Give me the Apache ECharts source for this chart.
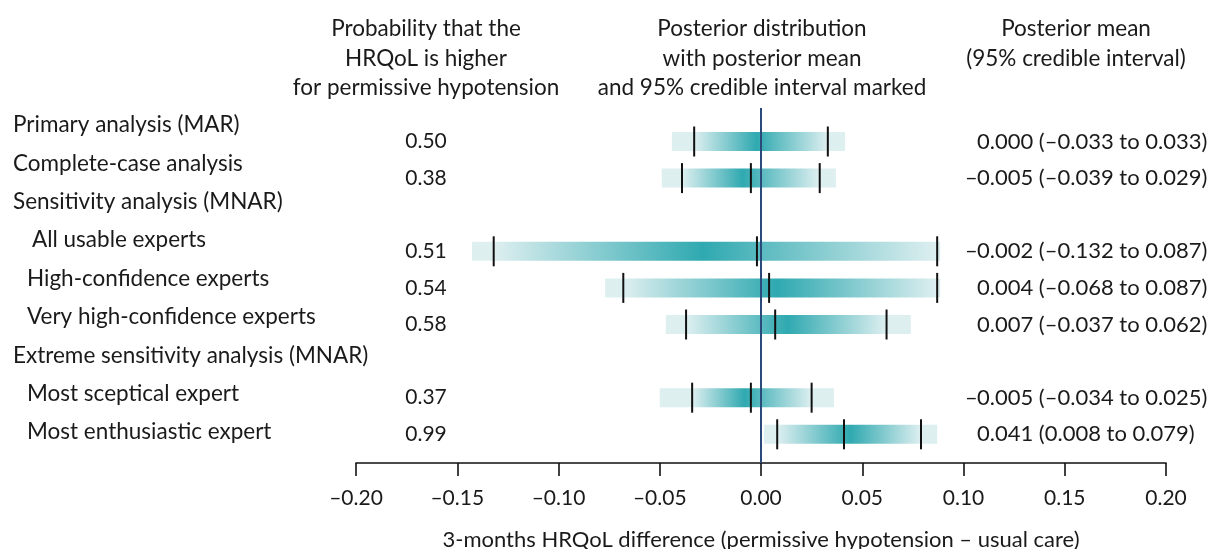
<!DOCTYPE html>
<html>
<head>
<meta charset="utf-8">
<script src="https://cdn.jsdelivr.net/npm/echarts@6/dist/echarts.min.js"></script>
<style>html,body{margin:0;padding:0;background:#fff}#c{width:1211px;height:549px}</style>
</head>
<body>
<div id="c"></div>
<script>
// ---- data ----
var rowLabels = ['Primary analysis (MAR)', 'Complete-case analysis', 'Sensitivity analysis (MNAR)',
  'All usable experts', 'High-confidence experts', 'Very high-confidence experts',
  'Extreme sensitivity analysis (MNAR)', 'Most sceptical expert', 'Most enthusiastic expert'];
var rowLevel = [0, 0, 0, 2, 1, 1, 0, 1, 1];          // 0 = heading, 1/2 = indented
var probHigher = ['0.50', '0.38', '', '0.51', '0.54', '0.58', '', '0.37', '0.99'];
var postMean  = [0.000, -0.005, null, -0.002, 0.004, 0.007, null, -0.005, 0.041];
var ciLower   = [-0.033, -0.039, null, -0.132, -0.068, -0.037, null, -0.034, 0.008];
var ciUpper   = [0.033, 0.029, null, 0.087, 0.087, 0.062, null, 0.025, 0.079];
var distLower = [-0.044, -0.049, null, -0.1427, -0.077, -0.047, null, -0.050, 0.0015];
var distUpper = [0.0415, 0.037, null, 0.0885, 0.0885, 0.074, null, 0.036, 0.087];
var distMode  = [-0.002, -0.009, null, -0.0286, 0.008, 0.013, null, -0.008, 0.044];
var tickLabels = ['–0.20', '–0.15', '–0.10', '–0.05', '0.00', '0.05', '0.10', '0.15', '0.20'];

var FONT = 'Lato';
var TXT = '#1a1a1a';
var LIGHT = '#deeff0';
var DARK = '#2fa9b0';
var FS = 22.5, FSN = 22, FST = 21;

function fmt(v) { return (v < 0 ? '–' : '') + Math.abs(v).toFixed(3); }
var meanText = postMean.map(function (m, i) {
  if (m === null) return '';
  var sign = m < 0 ? '–' : '';
  return '{n|' + sign + '}{t|' + Math.abs(m).toFixed(3) + ' (' + fmt(ciLower[i]) + ' to ' + fmt(ciUpper[i]) + ')}';
});

var rows = [];
for (var i = 0; i < rowLabels.length; i++) {
  if (postMean[i] !== null) rows.push([i, distLower[i], ciLower[i], distMode[i], postMean[i], ciUpper[i], distUpper[i]]);
}
var cats = rowLabels.map(function (_, i) { return String(i); });

var chart = echarts.init(document.getElementById('c'));
var headText = { fontFamily: FONT, fontSize: FS, color: TXT, fontWeight: 'normal', lineHeight: 29.5 };

chart.setOption({
  animation: false,
  title: [
    { text: 'Probability that the\nHRQoL is higher\nfor permissive hypotension', left: 426, top: 14, padding: 0, textAlign: 'center', textStyle: headText },
    { text: 'Posterior distribution\nwith posterior mean\nand 95% credible interval marked', left: 762, top: 14, padding: 0, textAlign: 'center', textStyle: headText },
    { text: 'Posterior mean\n(95% credible interval)', left: 1076, top: 14, padding: 0, textAlign: 'center', textStyle: headText }
  ],
  grid: [
    { left: 356, right: 45, top: 108, height: 355, containLabel: false, outerBoundsMode: 'none' },   // main plot
    { left: 13, width: 10, top: 105.8, height: 345.6, containLabel: false, outerBoundsMode: 'none' }, // left row labels
    { left: 356, right: 45, top: 123.2, height: 329.4, containLabel: false, outerBoundsMode: 'none' } // value columns
  ],
  xAxis: [
    { gridIndex: 0, type: 'value', min: -0.2, max: 0.2, interval: 0.05,
      axisLine: { show: true, onZero: false, lineStyle: { color: '#111', width: 1.6 } },
      axisTick: { show: true, length: 13, lineStyle: { color: '#111', width: 1.6 } },
      splitLine: { show: false },
      axisLabel: { margin: 25, fontFamily: FONT, fontSize: FST, color: TXT,
        formatter: function (v) { return tickLabels[Math.round((v + 0.2) / 0.05)]; } },
      name: '3-months HRQoL difference (permissive hypotension – usual care)',
      nameLocation: 'middle', nameGap: 66,
      nameTextStyle: { fontFamily: FONT, fontSize: FSN, color: TXT } },
    { gridIndex: 1, type: 'value', show: false },
    { gridIndex: 2, type: 'value', min: -0.2, max: 0.2, show: false }
  ],
  yAxis: [
    { gridIndex: 0, type: 'value', inverse: true, min: -0.9153, max: 8.784, show: false },
    { gridIndex: 1, type: 'category', data: cats, inverse: true, position: 'left',
      axisLine: { show: false }, axisTick: { show: false },
      axisLabel: { align: 'left', margin: 0, fontFamily: FONT, fontSize: FS, color: TXT,
        formatter: function (v) { var i = +v; return '{l' + rowLevel[i] + '|' + rowLabels[i] + '}'; },
        rich: {
          l0: { fontFamily: FONT, fontSize: FS, color: TXT },
          l1: { fontFamily: FONT, fontSize: FS, color: TXT, padding: [0, 0, 0, 14] },
          l2: { fontFamily: FONT, fontSize: FS, color: TXT, padding: [0, 0, 0, 19] }
        } } },
    { gridIndex: 2, type: 'category', data: cats, inverse: true, position: 'left', offset: -70,
      axisLine: { show: false }, axisTick: { show: false },
      axisLabel: { align: 'center', margin: 0, fontFamily: FONT, fontSize: FST, color: TXT,
        formatter: function (v) { return probHigher[+v]; } } },
    { gridIndex: 2, type: 'category', data: cats, inverse: true, position: 'right', offset: -200,
      axisLine: { show: false }, axisTick: { show: false },
      axisLabel: { align: 'left', margin: 0, fontFamily: FONT, fontSize: FSN, color: TXT,
        formatter: function (v) { return meanText[+v]; },
        rich: {
          n: { fontFamily: FONT, fontSize: FSN, color: TXT, width: 11, align: 'right' },
          t: { fontFamily: FONT, fontSize: FSN, color: TXT }
        } } }
  ],
  series: [
    {
      type: 'custom', xAxisIndex: 0, yAxisIndex: 0,
      data: rows,
      encode: { x: [1, 6], y: 0 },
      renderItem: function (params, api) {
        var y = api.value(0);
        var pLo = api.coord([api.value(1), y]);
        var pCiLo = api.coord([api.value(2), y]);
        var pMode = api.coord([api.value(3), y]);
        var pMean = api.coord([api.value(4), y]);
        var pCiHi = api.coord([api.value(5), y]);
        var pHi = api.coord([api.value(6), y]);
        var w = pHi[0] - pLo[0];
        var o = function (p) { return Math.max(0, Math.min(1, (p[0] - pLo[0]) / w)); };
        var bh = 19, th = 30;
        var tick = function (p) {
          return { type: 'line', shape: { x1: p[0], y1: p[1] - th / 2, x2: p[0], y2: p[1] + th / 2 },
            style: { stroke: '#111', lineWidth: 2 } };
        };
        return {
          type: 'group',
          children: [
            { type: 'rect', shape: { x: pLo[0], y: pLo[1] - bh / 2, width: w, height: bh },
              style: { fill: new echarts.graphic.LinearGradient(0, 0, 1, 0, [
                { offset: 0, color: LIGHT },
                { offset: o(pCiLo), color: LIGHT },
                { offset: o(pMode), color: DARK },
                { offset: o(pCiHi), color: LIGHT },
                { offset: 1, color: LIGHT }
              ]) } },
            tick(pCiLo), tick(pMean), tick(pCiHi)
          ]
        };
      },
      markLine: {
        silent: true, symbol: 'none', label: { show: false },
        lineStyle: { color: '#2b4a7c', width: 2, type: 'solid' },
        data: [{ xAxis: 0 }]
      },
      z: 2
    }
  ]
});
</script>
</body>
</html>
